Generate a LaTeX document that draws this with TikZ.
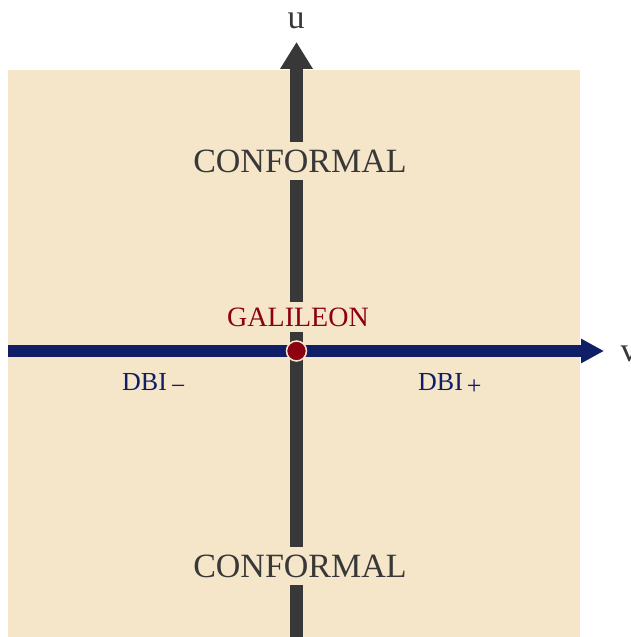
\documentclass[tikz,border=0pt]{standalone}
\usepackage{fontspec}
\setmainfont{Liberation Serif}
\usetikzlibrary{arrows.meta}

\definecolor{paper}{RGB}{245,229,201}
\definecolor{axisgray}{RGB}{56,56,56}
\definecolor{axisnavy}{RGB}{16,30,104}
\definecolor{galred}{RGB}{140,0,18}

\newcommand{\dbisign}[1]{\hspace{4pt}\raisebox{-4pt}{\fontsize{26}{30}\selectfont #1}}

\tikzset{
  uaxis/.style={draw=axisgray,line width=13pt,-{Triangle[width=31pt,length=27pt]}},
  vaxis/.style={draw=axisnavy,line width=12pt,-{Triangle[width=23pt,length=23pt]}},
  bigtext/.style={text=axisgray,fill=paper,inner xsep=4pt,inner ysep=7.5pt,font=\fontsize{34}{40}\selectfont},
  redtext/.style={text=galred,fill=paper,inner xsep=4pt,inner ysep=6pt,font=\fontsize{28}{33}\selectfont},
  dbitext/.style={text=axisnavy,anchor=base west,inner sep=0pt,font=\fontsize{26}{31}\selectfont},
  axislabel/.style={text=axisgray,font=\fontsize{34}{40}\selectfont}
}

\begin{document}
\begin{tikzpicture}[x=1pt,y=1pt]
  \useasboundingbox (0,0) rectangle (631,637);
  \fill[paper] (8,0) rectangle (580,567);
  % axes
  \coordinate (ubot) at (296.5,0);
  \coordinate (utop) at (296.5,595);
  \coordinate (vleft) at (8,286);
  \coordinate (vright) at (604,286);
  \draw[uaxis] (ubot) -- (utop);
  \draw[vaxis] (vleft) -- (vright);
  \node[axislabel] (ulab) at (296,616) {u};
  \node[axislabel,anchor=west] (vlab) at (617,283) {v};
  % regions
  \node[bigtext] (conftop) at (300,476) {CONFORMAL};
  \node[bigtext] (confbot) at (300,71) {CONFORMAL};
  \node[redtext] (gal) at (298,320) {GALILEON};
  \node[dbitext] (dbim) at (122,246) {DBI\dbisign{−}};
  \node[dbitext] (dbip) at (418,246) {DBI\dbisign{+}};
  \fill[galred,draw=paper,line width=1.5pt] (296.5,286) circle (10);
\end{tikzpicture}
\end{document}
